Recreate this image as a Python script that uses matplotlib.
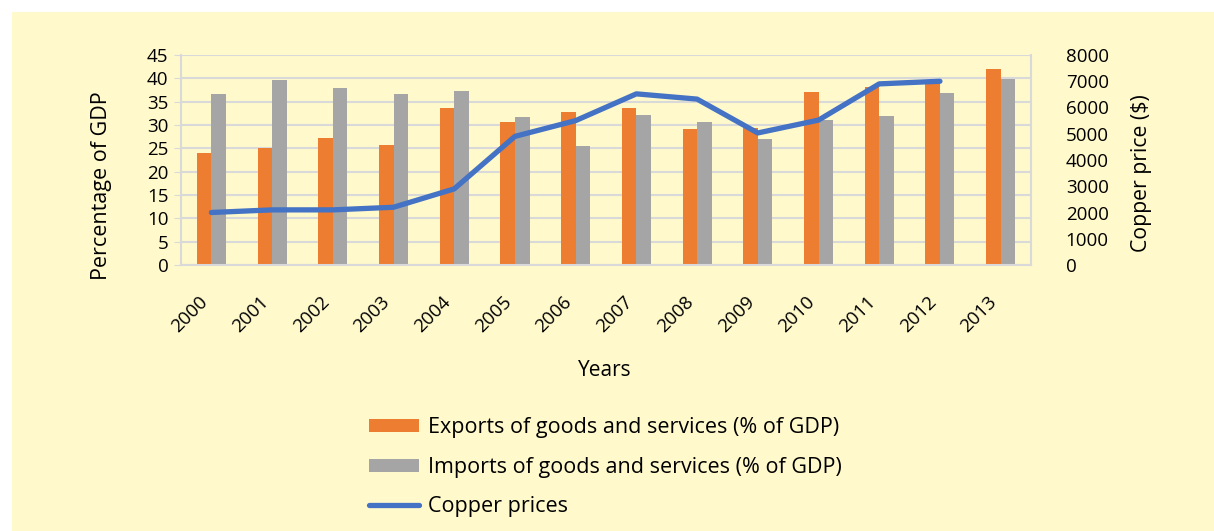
import matplotlib.pyplot as plt
from matplotlib.patches import Rectangle
import numpy as np

plt.rcParams['font.family'] = ['Open Sans', 'DejaVu Sans']

years = [str(y) for y in range(2000, 2014)]
exports = [23.9, 25.1, 27.2, 25.7, 33.6, 30.6, 32.7, 33.6, 29.1, 29.4, 37.1, 38.2, 39.3, 41.9]
imports = [36.6, 39.6, 37.9, 36.7, 37.3, 31.7, 25.4, 32.2, 30.6, 27.0, 31.0, 31.9, 36.9, 39.8]
copper = [2000, 2100, 2100, 2200, 2900, 4900, 5500, 6520, 6320, 5030, 5520, 6900, 7000]

bg = '#FFF9CC'
orange = '#ED7D31'
gray = '#A5A5A5'
blue = '#4472C4'
grid = '#D9D9D9'

fig = plt.figure(figsize=(12.14, 5.31), dpi=100)
fig.patch.set_facecolor('white')
fig.patches.append(Rectangle((12 / 1214, 0), 1 - 12 / 1214, 1 - 12 / 531,
                             transform=fig.transFigure, facecolor=bg,
                             edgecolor='none', zorder=-10))

ax = fig.add_axes([181 / 1214, 1 - 265 / 531, 850 / 1214, 210 / 531])
ax.set_facecolor('none')
x = np.arange(len(years))
w = 0.24
b1 = ax.bar(x - w / 2, exports, w, color=orange, label='Exports of goods and services (% of GDP)', zorder=2)
b2 = ax.bar(x + w / 2, imports, w, color=gray, label='Imports of goods and services (% of GDP)', zorder=2)

ax.set_xlim(-0.5, len(years) - 0.5)
ax.set_ylim(0, 45)
ax.set_yticks(range(0, 50, 5))
ax.yaxis.grid(True, color=grid, lw=1.5, zorder=0)
ax.set_xticks(x)
ax.set_xticklabels(years, rotation=45, ha='right', va='bottom', rotation_mode='anchor', fontsize=13.5)
ax.tick_params(axis='y', labelsize=13.5, length=5, color=grid, pad=4)
ax.tick_params(axis='x', length=0, pad=29)
for s in ['top', 'right']:
    ax.spines[s].set_visible(False)
ax.spines['left'].set_color(grid)
ax.spines['bottom'].set_color(grid)
ax.spines['left'].set_linewidth(1.5)
ax.spines['bottom'].set_linewidth(1.5)
ax.set_ylabel('Percentage of GDP', fontsize=15.5, va='center')
ax.yaxis.set_label_coords(-0.093, 0.376)
ax.set_xlabel('Years', fontsize=15, va='center')
ax.xaxis.set_label_coords(0.499, -0.5)

ax2 = ax.twinx()
ln, = ax2.plot(x[:len(copper)], copper, color=blue, lw=3.8, label='Copper prices', zorder=3,
               solid_capstyle='round')
ax2.set_ylim(0, 8000)
ax2.set_yticks(range(0, 9000, 1000))
ax2.tick_params(axis='y', labelsize=13.5, length=0, pad=25)
for s in ['top', 'left', 'bottom']:
    ax2.spines[s].set_visible(False)
ax2.spines['right'].set_color(grid)
ax2.spines['right'].set_linewidth(1.5)
ax2.set_ylabel('Copper price ($)', fontsize=15.3, va='center', rotation=90)
ax2.yaxis.set_label_coords(1.13, 0.438)

leg = fig.legend(handles=[b1, b2, ln], loc='upper left', bbox_to_anchor=(350 / 1214, 1 - 398 / 531),
                 frameon=False, fontsize=15.5, handlelength=2.3, handleheight=0.55,
                 labelspacing=0.85, handletextpad=0.4)

fig.savefig('out.png', dpi=100, facecolor=fig.get_facecolor())
